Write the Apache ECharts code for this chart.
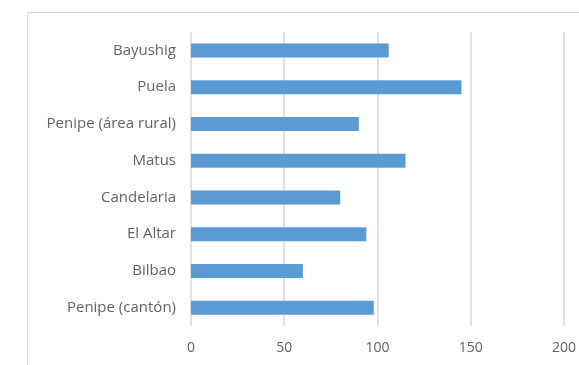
<!DOCTYPE html>
<html><head><meta charset="utf-8">
<script src="https://cdn.jsdelivr.net/npm/echarts@6/dist/echarts.min.js"></script>
<style>html,body{margin:0;padding:0;background:#fff}#c{width:579px;height:365px}</style>
</head><body><div id="c"></div>
<script>
const categories = ["Penipe (cantón)", "Bilbao", "El Altar", "Candelaria", "Matus", "Penipe (área rural)", "Puela", "Bayushig"];
const values = [98, 60, 94, 80, 115, 90, 145, 106];
const xTicks = {min: 0, max: 200, interval: 50};

const chart = echarts.init(document.getElementById('c'));
chart.setOption({
  animation: false,
  backgroundColor: '#fff',
  graphic: [{
    type: 'rect', left: 25, top: 10, z: -1,
    shape: {width: 600, height: 400},
    style: {fill: 'none', stroke: '#d9d9d9', lineWidth: 1}
  }],
  grid: {left: 191, right: 8, top: 32, bottom: 39},
  xAxis: {
    type: 'value', min: xTicks.min, max: xTicks.max, interval: xTicks.interval,
    axisLine: {show: false}, axisTick: {show: false},
    splitLine: {lineStyle: {color: '#d9d9d9', width: 1.5}},
    axisLabel: {color: '#636363', fontSize: 14, fontFamily: 'Open Sans', margin: 15}
  },
  yAxis: {
    type: 'category', data: categories,
    axisLine: {show: false}, axisTick: {show: false},
    axisLabel: {color: '#636363', fontSize: 15, fontFamily: 'Open Sans', margin: 15}
  },
  series: [{
    type: 'bar', data: values, barWidth: 14,
    itemStyle: {color: '#5b9bd5'}
  }]
});
</script></body></html>
